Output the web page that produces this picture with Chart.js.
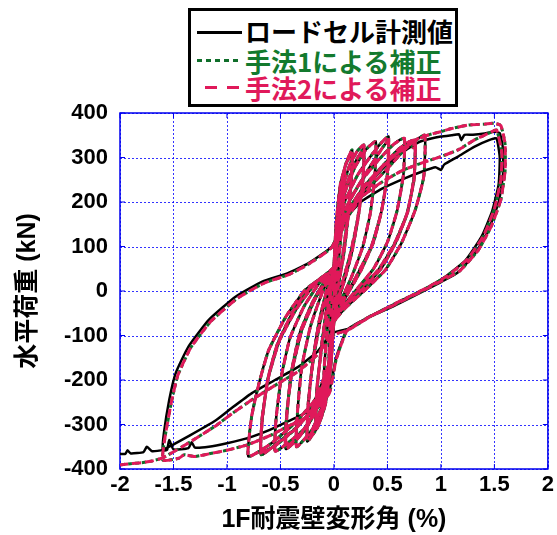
<!DOCTYPE html>
<html>
<head>
<meta charset="utf-8">
<script src="https://cdn.jsdelivr.net/npm/chart.js@4.4.1/dist/chart.umd.min.js"></script>
<style>
  body { margin: 0; background: #fff; }
  #wrap { position: relative; width: 557px; height: 535px; }
  #myChart { position: absolute; left: 0; top: 0; }
  .lg-box { position: absolute; left: 188px; top: 8px; width: 264px; height: 93px; border: 3px solid #000; background: #fff; }
  .lg-line { position: absolute; height: 3px; }
  .lg-text { position: absolute; left: 245px; font: bold 26px "Noto Sans CJK JP", sans-serif; line-height: 30px; white-space: nowrap; }
</style>
</head>
<body>
<div id="wrap">
  <canvas id="myChart" width="557" height="535"></canvas>
  <div class="lg-box"></div>
  <div class="lg-line" style="left:197px; top:31px; width:45px; background:#000;"></div>
  <div class="lg-line" style="left:197px; top:59px; width:45px; background:repeating-linear-gradient(90deg,#0f6e2a 0 5px,transparent 5px 9px);"></div>
  <div class="lg-line" style="left:205px; top:86px; width:36px; background:repeating-linear-gradient(90deg,#e0195a 0 12px,transparent 12px 22px);"></div>
  <div class="lg-text" id="lg0" style="top:16px; color:#000;"></div>
  <div class="lg-text" id="lg1" style="top:46px; color:#137a2e;"></div>
  <div class="lg-text" id="lg2" style="top:73px; color:#e0195a;"></div>
</div>
<script>
// 系列名
const seriesNames = ['ロードセル計測値', '手法1による補正', '手法2による補正'];

// 軸の範囲
const xMin = -2, xMax = 2, xStep = 0.5;
const yMin = -400, yMax = 400, yStep = 100;

// 小振幅の繰り返し (3系列ほぼ共通) [変形角 %, 荷重 kN]
const smallLoops = [
  [0, 0],
  [0.01, 60], [0.03, 130], [0.05, 180], [0.04, 120], [0.02, 50], [0, -20], [-0.02, -90], [-0.04, -140], [-0.05, -170], [-0.04, -110], [-0.02, -30], [0, 40],
  [0.02, 110], [0.05, 190], [0.08, 240], [0.1, 270], [0.09, 200], [0.06, 110], [0.03, 30], [0, -50], [-0.03, -140], [-0.06, -200], [-0.1, -250], [-0.09, -170], [-0.06, -80], [-0.03, 0], [0, 60],
  [0.02, 140], [0.06, 230], [0.11, 285], [0.17, 317], [0.16, 250], [0.13, 160], [0.09, 80], [0.04, 10], [0, -60], [-0.03, -160], [-0.08, -250], [-0.13, -290], [-0.17, -310], [-0.16, -230], [-0.12, -130], [-0.07, -40], [-0.02, 30], [0, 60],
  [0.02, 150], [0.06, 240], [0.12, 290], [0.17, 305], [0.16, 240], [0.12, 150], [0.07, 60], [0.02, 0], [0, -60], [-0.03, -170], [-0.08, -255], [-0.13, -292], [-0.17, -305], [-0.16, -220], [-0.11, -120], [-0.05, -30], [0, 50],
  [0.03, 150], [0.08, 230], [0.15, 285], [0.22, 315], [0.28, 328], [0.27, 250], [0.23, 170], [0.17, 90], [0.1, 25], [0.03, -30], [0, -70], [-0.03, -170], [-0.08, -250], [-0.15, -305], [-0.25, -338], [-0.24, -260], [-0.2, -160], [-0.14, -70], [-0.07, 0], [0, 55],
  [0.03, 140], [0.1, 225], [0.2, 290], [0.28, 320], [0.27, 245], [0.22, 160], [0.15, 80], [0.08, 20], [0, -60], [-0.04, -180], [-0.12, -270], [-0.2, -315], [-0.25, -330], [-0.24, -250], [-0.19, -150], [-0.12, -60], [-0.05, 5], [0, 50],
  [0.03, 140], [0.1, 220], [0.2, 280], [0.3, 318], [0.39, 336], [0.38, 255], [0.34, 175], [0.27, 100], [0.17, 35], [0.07, -20], [0, -70], [-0.03, -160], [-0.1, -250], [-0.2, -310], [-0.35, -350], [-0.34, -270], [-0.3, -170], [-0.22, -80], [-0.12, -10], [-0.03, 40], [0, 55],
  [0.03, 130], [0.1, 200], [0.22, 260], [0.35, 305], [0.45, 335], [0.51, 347], [0.5, 265], [0.45, 185], [0.37, 110], [0.25, 45], [0.12, -10], [0, -65], [-0.04, -160], [-0.12, -245], [-0.25, -305], [-0.37, -340], [-0.45, -355], [-0.44, -280], [-0.4, -185], [-0.32, -95], [-0.2, -25], [-0.08, 25], [0, 50],
  [0.04, 140], [0.15, 205], [0.3, 265], [0.42, 310], [0.51, 338], [0.5, 258], [0.44, 175], [0.35, 100], [0.22, 38], [0.1, -15], [0, -70], [-0.05, -175], [-0.15, -260], [-0.3, -318], [-0.45, -350], [-0.44, -272], [-0.39, -178], [-0.3, -88], [-0.18, -20], [-0.06, 28], [0, 48],
  [0.03, 120], [0.12, 190], [0.25, 245], [0.4, 290], [0.55, 328], [0.62, 340], [0.66, 343], [0.65, 262], [0.59, 180], [0.5, 110], [0.37, 50], [0.2, 0], [0.05, -45], [0, -70], [-0.04, -165], [-0.13, -250], [-0.28, -310], [-0.45, -345], [-0.55, -360], [-0.54, -285], [-0.49, -190], [-0.41, -105], [-0.28, -35], [-0.13, 20], [0, 50],
  [0.03, 115], [0.13, 180], [0.28, 235], [0.45, 280], [0.6, 318], [0.7, 335], [0.76, 339], [0.75, 258], [0.69, 178], [0.58, 110], [0.44, 50], [0.26, 2], [0.08, -40], [0, -65], [-0.04, -160], [-0.15, -245], [-0.32, -300], [-0.52, -340], [-0.68, -368], [-0.67, -290], [-0.62, -200], [-0.53, -120], [-0.38, -45], [-0.2, 15], [0, 50],
  [0.04, 125], [0.16, 185], [0.32, 240], [0.5, 290], [0.65, 322], [0.72, 330], [0.74, 322], [0.76, 336], [0.75, 252], [0.68, 172], [0.56, 104], [0.41, 46], [0.22, 0], [0.06, -42], [0, -66], [-0.05, -170], [-0.17, -255], [-0.36, -310], [-0.55, -348], [-0.68, -362], [-0.67, -282], [-0.61, -192], [-0.51, -112], [-0.35, -40], [-0.17, 18], [0, 52],
  [0.03, 110], [0.14, 170], [0.3, 225], [0.5, 275], [0.65, 315], [0.77, 340], [0.85, 350], [0.84, 257], [0.76, 182], [0.63, 107], [0.48, 47], [0.29, 2], [0.1, -40], [0, -70], [-0.05, -165], [-0.18, -245], [-0.38, -300], [-0.6, -345], [-0.8, -372], [-0.77, -283], [-0.7, -207], [-0.61, -133], [-0.45, -58], [-0.27, 2], [0, 54]
];

// 大振幅 (±1.5%) と最終押し切り: ロードセル計測値
const bigLoadCell = [
  [0.03, 120], [0.12, 175], [0.3, 235], [0.5, 285], [0.68, 318], [0.8, 335], [0.9, 342], [1.0, 347], [1.1, 350], [1.17, 352], [1.19, 339], [1.22, 351], [1.3, 351], [1.41, 354], [1.5, 358], [1.55, 355],
  [1.58, 320], [1.58, 260], [1.54, 200], [1.45, 140], [1.33, 88], [1.16, 42], [1.0, 20], [0.8, -5], [0.55, -35], [0.3, -62], [0.12, -88], [0.02, -150], [-0.04, -220], [-0.12, -245], [-0.25, -272], [-0.42, -292], [-0.6, -312], [-0.8, -330], [-1.0, -342], [-1.17, -350], [-1.3, -352], [-1.33, -340], [-1.36, -353], [-1.5, -356], [-1.54, -335], [-1.56, -357], [-1.6, -358],
  [-1.59, -320], [-1.54, -245], [-1.48, -185], [-1.36, -125], [-1.17, -65], [-0.92, -13], [-0.67, 21], [-0.43, 40], [-0.24, 62], [-0.02, 100],
  [0.1, 160], [0.25, 200], [0.45, 230], [0.65, 252], [0.82, 268], [0.95, 278], [1.0, 272], [1.03, 284], [1.16, 302], [1.31, 324], [1.45, 339], [1.52, 343],
  [1.55, 300], [1.54, 240], [1.48, 180], [1.38, 122], [1.23, 69], [1.04, 32], [0.85, 5], [0.6, -25], [0.35, -55], [0.13, -85], [-0.02, -95], [-0.15, -135], [-0.33, -170], [-0.55, -200], [-0.77, -230], [-0.95, -262], [-1.1, -290], [-1.35, -325], [-1.6, -357],
  [-1.7, -360], [-1.75, -350], [-1.78, -362], [-1.9, -365], [-1.93, -358], [-1.95, -366], [-2.0, -366]
];

// 大振幅と最終押し切り: 補正後 (手法1・手法2 はほぼ一致)
const bigCorrected = [
  [0.03, 120], [0.12, 178], [0.3, 238], [0.5, 290], [0.68, 325], [0.8, 343], [0.9, 352], [1.0, 358], [1.1, 365], [1.26, 373], [1.41, 375], [1.5, 377], [1.56, 372],
  [1.6, 330], [1.6, 270], [1.56, 205], [1.47, 145], [1.35, 92], [1.18, 46], [1.0, 22], [0.8, -3], [0.55, -33], [0.3, -62], [0.12, -90], [0.02, -155], [-0.04, -228], [-0.12, -255], [-0.25, -283], [-0.42, -303], [-0.6, -325], [-0.8, -345], [-1.0, -358], [-1.17, -366], [-1.3, -372], [-1.4, -368], [-1.45, -376], [-1.6, -380],
  [-1.58, -330], [-1.52, -250], [-1.46, -190], [-1.34, -128], [-1.15, -68], [-0.9, -16], [-0.65, 18], [-0.42, 37], [-0.24, 60], [-0.02, 98],
  [0.1, 165], [0.25, 210], [0.45, 245], [0.65, 272], [0.85, 290], [1.0, 302], [1.16, 317], [1.31, 339], [1.45, 355], [1.52, 362],
  [1.57, 310], [1.56, 250], [1.5, 185], [1.4, 125], [1.25, 72], [1.06, 34], [0.86, 6], [0.6, -25], [0.35, -56], [0.13, -88], [-0.02, -100], [-0.15, -142], [-0.33, -180], [-0.55, -212], [-0.77, -245], [-0.95, -275], [-1.1, -302], [-1.35, -340], [-1.6, -375],
  [-1.7, -382], [-1.8, -386], [-1.9, -388], [-2.0, -391]
];

const toPoints = arr => arr.map(p => ({ x: p[0], y: p[1] }));

// 凡例テキスト
seriesNames.forEach((name, i) => { document.getElementById('lg' + i).textContent = name; });

const axisFont = "'Liberation Sans', 'Noto Sans CJK JP', sans-serif";

// 点線グリッド・枠・内向きの目盛り線
const framePlugin = {
  id: 'frame',
  beforeDatasetsDraw(chart) {
    const { ctx, chartArea: a, scales } = chart;
    ctx.save();
    ctx.strokeStyle = 'rgba(0,0,255,0.8)';
    ctx.lineWidth = 1;
    ctx.setLineDash([2, 2]);
    ctx.beginPath();
    scales.x.ticks.forEach(t => {
      const px = Math.round(scales.x.getPixelForValue(t.value)) + 0.5;
      ctx.moveTo(px, a.top); ctx.lineTo(px, a.bottom);
    });
    scales.y.ticks.forEach(t => {
      const py = Math.round(scales.y.getPixelForValue(t.value)) + 0.5;
      ctx.moveTo(a.left, py); ctx.lineTo(a.right, py);
    });
    ctx.stroke();

    ctx.setLineDash([]);
    ctx.strokeStyle = '#0000ee';
    ctx.lineWidth = 1.5;
    ctx.strokeRect(a.left, a.top, a.right - a.left, a.bottom - a.top);
    ctx.lineWidth = 1;
    ctx.beginPath();
    scales.x.ticks.forEach(t => {
      const px = scales.x.getPixelForValue(t.value);
      ctx.moveTo(px, a.bottom); ctx.lineTo(px, a.bottom - 5);
      ctx.moveTo(px, a.top); ctx.lineTo(px, a.top + 5);
    });
    scales.y.ticks.forEach(t => {
      const py = scales.y.getPixelForValue(t.value);
      ctx.moveTo(a.left, py); ctx.lineTo(a.left + 5, py);
      ctx.moveTo(a.right, py); ctx.lineTo(a.right - 5, py);
    });
    ctx.stroke();
    ctx.restore();
  }
};

const ctx = document.getElementById('myChart').getContext('2d');
const myChart = new Chart(ctx, {
  type: 'scatter',
  data: {
    datasets: [{
      label: seriesNames[0],
      data: toPoints(smallLoops.concat(bigLoadCell)),
      showLine: true,
      borderColor: '#000000',
      borderWidth: 2.5,
      pointRadius: 0,
      tension: 0.15,
      order: 3
    }, {
      label: seriesNames[1],
      data: toPoints(smallLoops.concat(bigCorrected)),
      showLine: true,
      borderColor: '#0f6e2a',
      borderWidth: 3,
      borderDash: [4, 3],
      pointRadius: 0,
      tension: 0.15,
      order: 2
    }, {
      label: seriesNames[2],
      data: toPoints(smallLoops.concat(bigCorrected)),
      showLine: true,
      borderColor: '#e0195a',
      borderWidth: 3,
      borderDash: [9, 4],
      pointRadius: 0,
      tension: 0.15,
      order: 1
    }]
  },
  options: {
    responsive: false,
    animation: false,
    layout: { padding: { top: 113, right: 8, left: 0, bottom: 0 } },
    scales: {
      x: {
        type: 'linear',
        min: xMin, max: xMax,
        ticks: {
          stepSize: xStep, color: '#000', padding: 3,
          font: { family: axisFont, size: 22, weight: 'bold' },
          callback: v => String(Math.round(v * 10) / 10)
        },
        grid: { display: false, drawTicks: false },
        border: { display: false },
        title: { display: true, text: '1F耐震壁変形角 (%)', color: '#000', font: { family: axisFont, size: 25, weight: 'bold' }, padding: { top: 6, bottom: 0 } },
        afterFit: s => { s.height = 66; }
      },
      y: {
        type: 'linear',
        min: yMin, max: yMax,
        ticks: {
          stepSize: yStep, color: '#000', padding: 12,
          font: { family: axisFont, size: 22, weight: 'bold' },
          callback: v => String(v)
        },
        grid: { display: false, drawTicks: false },
        border: { display: false },
        title: { display: true, text: '水平荷重 (kN)', color: '#000', font: { family: axisFont, size: 25, weight: 'bold' }, padding: { top: 13, bottom: 0 } },
        afterFit: s => { s.width = 120; }
      }
    },
    plugins: {
      legend: { display: false },
      tooltip: { enabled: false }
    }
  },
  plugins: [framePlugin]
});
</script>
</body>
</html>
